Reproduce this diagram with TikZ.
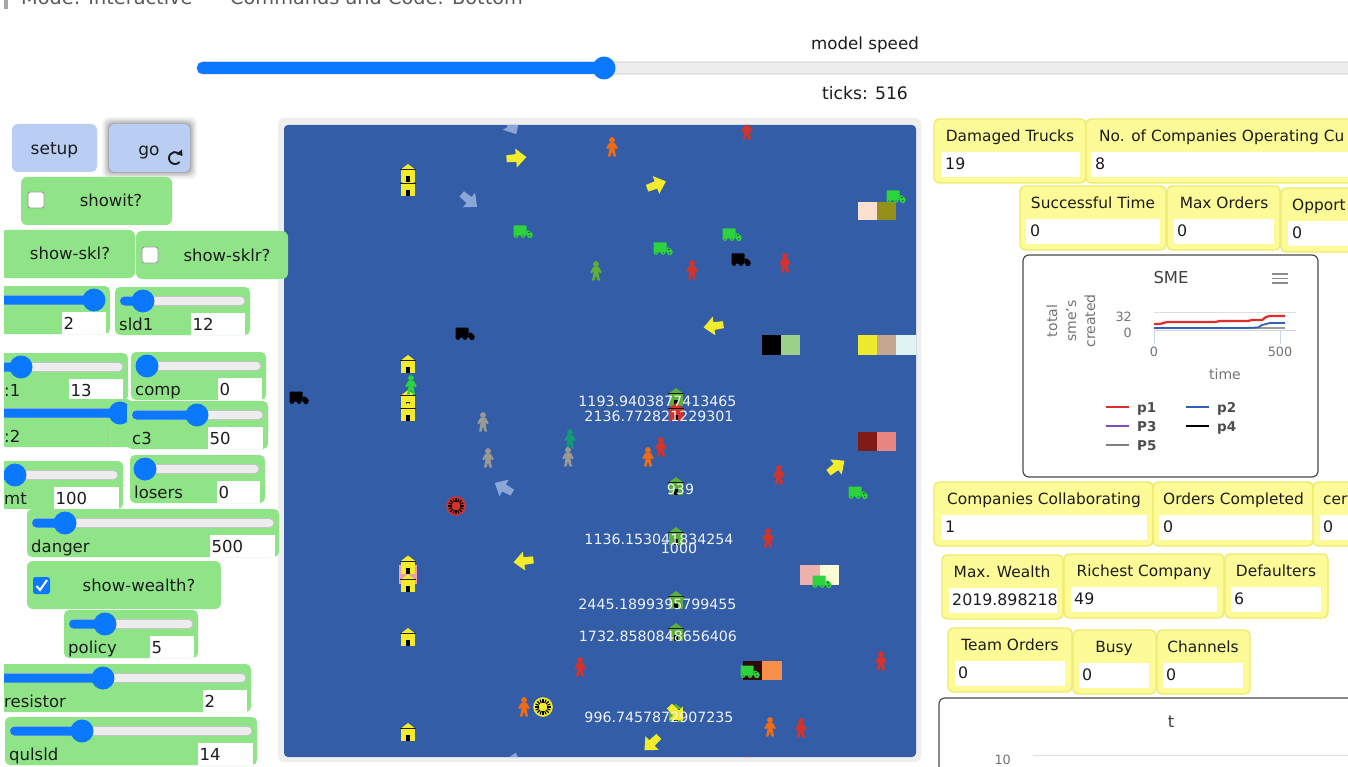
\documentclass[tikz,border=0pt]{standalone}
\usepackage{fontspec}
\setmainfont{DejaVu Sans}
\usetikzlibrary{calc}
\definecolor{wgreen}{HTML}{8FE488}
\definecolor{wblue}{HTML}{B9CEF2}
\definecolor{knob}{HTML}{0A78FF}
\definecolor{trk}{HTML}{EDEDED}
\definecolor{trkb}{HTML}{C4C4C4}
\definecolor{myel}{HTML}{FDFB97}
\definecolor{myelb}{HTML}{EDEB6C}
\definecolor{viewb}{HTML}{335DA7}
\definecolor{frm}{HTML}{EEEEEE}
\definecolor{ink}{HTML}{1C1C1C}
\definecolor{pyel}{HTML}{F2EC2C}
\definecolor{lblue}{HTML}{8CA6D8}
\definecolor{pred}{HTML}{D5322A}
\definecolor{porg}{HTML}{F06C14}
\definecolor{pgry}{HTML}{9A9A92}
\definecolor{pteal}{HTML}{149A78}
\definecolor{pgrn}{HTML}{5CB038}
\definecolor{tgrn}{HTML}{2CD33C}
\definecolor{pa}{HTML}{FCE0CF}
\definecolor{pb}{HTML}{94901A}
\definecolor{pc}{HTML}{9CD18A}
\definecolor{pd}{HTML}{EEEA2E}
\definecolor{pe}{HTML}{C5A68E}
\definecolor{pf}{HTML}{DFF3F2}
\definecolor{pg}{HTML}{801A14}
\definecolor{ph}{HTML}{E88580}
\definecolor{pi}{HTML}{EDB0AB}
\definecolor{pj}{HTML}{FCFBD8}
\definecolor{pk}{HTML}{300808}
\definecolor{pl}{HTML}{F68F4A}
\definecolor{pm}{HTML}{EE9DB0}
\definecolor{frame}{HTML}{4A4A4A}
\definecolor{axisb}{HTML}{CCD6EB}
\definecolor{serg}{HTML}{9A9A9A}
\definecolor{serb}{HTML}{3060B8}
\definecolor{serr}{HTML}{E02C2C}
\definecolor{serp}{HTML}{7C4DB8}
\newcounter{nn}
\newcommand{\tx}[6]{\stepcounter{nn}\node[inner sep=0pt,anchor=#3,text=#5,font=\fontsize{#4}{#4}\selectfont] (n\arabic{nn}) at (#1,#2+3) {#6};}
\newcommand{\rbox}[6]{\fill[#5,rounded corners=#6] (#1,#2) rectangle (#3,#4);}
% x1 x2 ytop trackx1 trackx2 knobx label labelx boxx1 boxx2 value
\newcommand{\slider}[9]{\def\Sa{#1}\def\Sb{#2}\def\Sc{#3}\def\Sd{#4}\def\Se{#5}\def\Sf{#6}\def\Sg{#7}\def\Sh{#8}\def\Si{#9}\sliderb}
\newcommand{\sliderb}[2]{%
 \rbox{\Sa}{\Sc}{\Sb}{\Sc+48}{wgreen}{5pt}
 \fill[white] (\Si,\Sc+26) rectangle (#1,\Sc+48);
 \draw[trkb,fill=trk,line width=.8pt,rounded corners=4.5pt] (\Sd,\Sc+9.5) rectangle (\Se,\Sc+18.5);
 \fill[knob,rounded corners=4.5pt] (\Sd,\Sc+9.5) rectangle (\Sf,\Sc+18.5);
 \fill[knob] (\Sf,\Sc+14) circle (11.5);
 \tx{\Sh}{\Sc+37.5}{mid west}{16.5}{ink}{\Sg}
 \tx{\Si+1.5}{\Sc+37.5}{mid west}{16.5}{ink}{#2}
}
\newcommand{\chk}[2]{\draw[gray!80,fill=white,line width=.9pt,rounded corners=2.5pt] (#1-8,#2-8) rectangle (#1+8,#2+8);}
% x1 ytop x2 fieldx1 fieldx2 value title titlex valx anchor
\newcommand{\mon}[9]{\def\Ma{#1}\def\Mb{#2}\def\Mc{#3}\def\Md{#4}\def\Me{#5}\def\Mf{#6}\def\Mg{#7}\def\Mh{#8}\def\Mi{#9}\monb}
\newcommand{\monb}[1]{%
 \draw[myelb,fill=myel,line width=1.4pt,rounded corners=5pt] (\Ma,\Mb) rectangle (\Mc,\Mb+64);
 \fill[white] (\Md,\Mb+33) rectangle (\Me,\Mb+58);
 \tx{\Mh}{\Mb+16.5}{#1}{15.4}{ink}{\Mg}
 \begin{scope}
 \clip (\Md,\Mb+33) rectangle (\Me,\Mb+58);
 \tx{\Mi}{\Mb+45}{mid west}{15.8}{ink}{\Mf}
 \end{scope}
}
\newcommand{\person}[3]{\begin{scope}[shift={(#1,#2)}]\fill[#3] (0,-7) circle (2.9);
 \fill[#3,rounded corners=.5pt] (-2.6,-4.4) -- (2.6,-4.4) -- (5.8,1.2) -- (4.2,2.4) -- (2.5,.2) -- (2.5,1.5) -- (4,9.6) -- (1.5,9.6) -- (0,4.4) -- (-1.5,9.6) -- (-4,9.6) -- (-2.5,1.5) -- (-2.5,.2) -- (-4.2,2.4) -- (-5.8,1.2) -- cycle;\end{scope}}
\newcommand{\truck}[3]{\begin{scope}[shift={(#1,#2)}]
 \fill[#3,rounded corners=.6pt] (-9.5,-5.5) rectangle (3.5,4.5);
 \fill[#3,rounded corners=.6pt] (3.5,-.5) -- (6,-.5) -- (9.5,2.5) -- (9.5,4.8) -- (3.5,4.8) -- cycle;
 \fill[#3] (-7,4.5) circle (2.4) (0,4.5) circle (2.4) (6.8,4.5) circle (2.7);
 \fill[black,opacity=.7] (-7,5) circle (.6) (0,5) circle (.6) (6.8,4.8) circle (.7) (5,.8) rectangle (6.6,2);
 \end{scope}}
\newcommand{\house}[3]{\begin{scope}[shift={(#1,#2)}]
 \fill[#3] (0,-9) -- (7.8,-3) -- (-7.8,-3) -- cycle;
 \fill[#3] (-7.2,-3) rectangle (7.2,9);
 \fill[black!85!#3] (-8,-3.6) rectangle (8,-2.6);
 \fill[black] (-2,3) rectangle (2,9);
 \end{scope}}
\newcommand{\arw}[4]{\begin{scope}[shift={(#1,#2)},rotate=#3]
 \fill[#4] (10.5,0) -- (0,-9.5) -- (0,-3.9) -- (-9.5,-3.5) -- (-9.5,3.5) -- (0,3.9) -- (0,9.5) -- cycle;\end{scope}}
\newcommand{\whl}[3]{\begin{scope}[shift={(#1,#2)}]
 \fill[#3] (0,0) circle (9.8);
 \foreach \a in {0,22.5,...,337.5}{\draw[black,line width=1.1pt] (\a:4.4) -- (\a:8);}
 \end{scope}}
\newcommand{\lab}[3]{\tx{#1}{#2}{mid}{14.2}{white!92!viewb}{#3}}
\begin{document}
\begin{tikzpicture}[x=1pt,y=-1pt]
\useasboundingbox (0,0) rectangle (1348,767);
\clip (0,0) rectangle (1348,767);
\fill[white] (0,0) rectangle (1348,767);
% top line
\fill[gray!70] (4,0) rectangle (8,9);
\tx{21}{-1}{mid west}{19.3}{gray!70!black}{Mode: Interactive}
\tx{230}{-1}{mid west}{19.3}{gray!70!black}{Commands and Code: Bottom}
% speed slider
\tx{865}{44}{mid}{16.7}{ink}{model speed}
\tx{865}{93.5}{mid}{17.2}{ink}{ticks: 516}
\draw[trkb,fill=trk,line width=.8pt,rounded corners=5.5pt] (197,62) rectangle (1360,74);
\fill[knob,rounded corners=5.5pt] (197,62) rectangle (604,74);
\fill[knob] (604,68) circle (11.5);
% view
\fill[frm,rounded corners=6pt] (278,118) rectangle (921,762);
\fill[viewb,rounded corners=4pt] (284,125) rectangle (916,757);
\begin{scope}
\clip[rounded corners=4pt] (284,125) rectangle (916,757);
% patches
\fill[pa] (858,202) rectangle (877,220);
\fill[pb] (877,202) rectangle (896,220);
\fill[black] (762,335) rectangle (781,355);
\fill[pc] (781,335) rectangle (800,355);
\fill[pd] (858,335) rectangle (877,355);
\fill[pe] (877,335) rectangle (896,355);
\fill[pf] (896,335) rectangle (916,355);
\fill[pg] (858,432) rectangle (877,451);
\fill[ph] (877,432) rectangle (896,451);
\fill[pi] (800,565) rectangle (820,585);
\fill[pj] (820,565) rectangle (839,585);
\fill[pk] (743,661) rectangle (762,680);
\fill[pl] (762,661) rectangle (782,680);
\fill[pm] (399,565) rectangle (417,584);
% houses
\house{408}{187}{pyel}\house{408}{173}{pyel}
\house{408}{364}{pyel}
\house{408}{399}{pyel}\house{408}{411.5}{pyel}
\house{408}{564.5}{pyel}\house{408}{583}{pyel}
\house{408}{637}{pyel}\house{408}{732}{pyel}
\house{676}{397}{pgrn}\house{676}{412}{pred}
\house{676}{486}{pgrn}\house{676}{536}{pgrn}\house{676}{600}{pgrn}\house{676}{632}{pgrn}\house{676}{713}{pgrn}
% people
\person{612}{147}{porg}\person{747}{130}{pred}
\person{596}{271}{pgrn}\person{692}{270}{pred}\person{785}{263}{pred}
\person{411}{385}{tgrn}\person{483}{422}{pgry}\person{570}{439}{pteal}
\person{488}{458}{pgry}\person{568}{457}{pgry}
\person{661}{447}{pred}\person{648}{457}{porg}
\person{779}{475}{pred}\person{768}{538}{pred}\person{580}{667}{pred}\person{881}{661}{pred}
\person{524}{707}{porg}\person{770}{727}{porg}\person{801}{728}{pred}\person{747}{766}{pred}
% trucks
\truck{523}{231}{tgrn}\truck{663}{248}{tgrn}\truck{732}{234}{tgrn}\truck{896}{196}{tgrn}
\truck{858}{492}{tgrn}\truck{822}{581}{tgrn}\truck{750}{671}{tgrn}
\truck{465}{333}{black}\truck{299}{397}{black}\truck{741}{259}{black}
% arrows
\arw{516}{158}{5}{pyel}\arw{511}{125}{-60}{lblue}\arw{469}{200}{-40}{lblue}
\arw{656}{185}{20}{pyel}\arw{714}{326}{188}{pyel}\arw{836}{467}{37}{pyel}
\arw{504}{488}{151}{lblue}\arw{524}{561}{187}{pyel}\arw{676}{713}{-47}{pyel}
\arw{652}{743}{224}{pyel}\arw{513}{763}{75}{lblue}
% wheels
\whl{456}{506}{pred}\whl{543}{707}{pyel}
% labels
\lab{657.5}{401}{1193.9403877413465}
\lab{659}{416}{2136.772821229301}
\lab{680.5}{489}{939}
\lab{659}{539}{1136.153041834254}
\lab{679}{547.5}{1000}
\lab{657.5}{604}{2445.1899395799455}
\lab{658}{636}{1732.8580848656406}
\lab{659}{717}{996.7457872907235}
\end{scope}
% buttons
\foreach \s/\o in {7/.04,5.5/.05,4/.07,2.5/.09,1/.12}{\fill[black,opacity=\o,rounded corners=6pt] (109-\s,124-\s) rectangle (190+\s,172+\s);}
\rbox{12}{124}{97}{172}{wblue}{6pt}
\rbox{109}{124}{190}{172}{wblue}{6pt}
\tx{54.5}{148.5}{mid}{17}{ink}{setup}
\tx{149}{149.5}{mid}{17}{ink}{go}
\draw[ink,line width=1.9pt] (179.6,161.9) arc (40:300:6);
\fill[ink] (182,149.5) -- (182.5,156) -- (176,154) -- cycle;
% switches
\rbox{21}{177}{172}{225}{wgreen}{6pt}\chk{36}{200}
\tx{111}{201}{mid}{16.5}{ink}{showit?}
\rbox{0}{230}{135}{278}{wgreen}{6pt}
\tx{70}{254}{mid}{16.5}{ink}{show-skl?}
\rbox{136}{231}{288}{279}{wgreen}{6pt}\chk{150}{255}
\tx{227}{256}{mid}{16.5}{ink}{show-sklr?}
% sliders
\slider{0}{110}{286}{-5}{105}{94}{}{4}{62}{106}{2}
\slider{115}{250}{287}{120}{245}{143}{sld1}{119}{191}{245}{12}
\slider{0}{128}{353}{-5}{123}{21}{:1}{4}{69}{123}{13}
\slider{131}{266}{352}{136}{261}{147}{comp}{135}{218}{262}{0}
\slider{0}{132}{399}{-5}{127}{120}{:2}{4}{110}{110}{}
\slider{127}{268}{401}{132}{263}{197}{c3}{132}{208}{263}{50}
\slider{0}{123}{461}{-5}{118}{15}{mt}{4}{54}{119}{100}
\slider{130}{265}{455}{135}{259}{145}{losers}{134}{217}{260}{0}
\slider{27}{279}{509}{32}{274}{65}{danger}{31}{210}{275}{500}
\rbox{27}{561}{221}{609}{wgreen}{6pt}
\fill[knob,rounded corners=2.5pt] (33,577) rectangle (50,594);
\draw[white,line width=2pt] (36.5,586) -- (40,590) -- (47,580);
\tx{139}{586}{mid}{16.5}{ink}{show-wealth?}
\slider{64}{198}{610}{69}{193}{105}{policy}{68}{150}{194}{5}
\slider{0}{251}{664}{-5}{246}{103}{resistor}{4}{203}{247}{2}
\slider{5}{257}{717}{10}{252}{82}{qulsld}{9}{198}{253}{14}
% left margin mask
\fill[white] (0,225) rectangle (4,767);
% monitors
\mon{934}{119}{1086}{941}{1080}{19}{Damaged Trucks}{1010}{945}{mid}
\mon{1086}{119}{1380}{1091}{1380}{8}{No. of Companies Operating Cu}{1099}{1095}{mid west}
\mon{1020}{186}{1166}{1026}{1160}{0}{Successful Time}{1093}{1030}{mid}
\mon{1167}{186}{1280}{1174}{1274}{0}{Max Orders}{1224}{1177}{mid}
\mon{1281}{188}{1380}{1288}{1380}{0}{Opport}{1292}{1292}{mid west}
\mon{934}{482}{1153}{941}{1147}{1}{Companies Collaborating}{1044}{945}{mid}
\mon{1153}{482}{1313}{1159}{1313}{0}{Orders Completed}{1163}{1163}{mid west}
\mon{1313}{482}{1380}{1320}{1380}{0}{cer}{1323}{1323}{mid west}
\mon{942}{555}{1063}{949}{1057}{2019.898218}{Max. Wealth}{1002}{952}{mid}
\mon{1064}{554}{1224}{1071}{1217}{49}{Richest Company}{1144}{1074}{mid}
\mon{1225}{554}{1328}{1231}{1321}{6}{Defaulters}{1276}{1234}{mid}
\mon{948}{628}{1072}{955}{1065}{0}{Team Orders}{1010}{958}{mid}
\mon{1073}{630}{1156}{1079}{1149}{0}{Busy}{1114}{1082}{mid}
\mon{1157}{630}{1250}{1163}{1243}{0}{Channels}{1203}{1166}{mid}
% SME plot
\draw[frame,fill=white,line width=1.2pt,rounded corners=6pt] (1023,255) rectangle (1318,477);
\tx{1171}{278}{mid}{16.4}{black!75}{SME}
\draw[gray!90,line width=1.1pt] (1272,274) -- (1288,274) (1272,278.5) -- (1288,278.5) (1272,283) -- (1288,283);
\foreach \xx/\lb in {1052/total,1071/sme's,1090/created}{\stepcounter{nn}\node[inner sep=0pt,rotate=90,text=gray!90!black,font=\fontsize{14}{14}\selectfont] (n\arabic{nn}) at (\xx,321) {\lb};}
\draw[gray!25,line width=.8pt] (1154,312) -- (1296,312);
\draw[axisb,line width=.8pt] (1154,330) -- (1296,330) (1154,330) -- (1154,344) (1280,330) -- (1280,344);
\tx{1132}{316}{mid east}{12.8}{gray!90!black}{32}
\tx{1132}{332}{mid east}{12.8}{gray!90!black}{0}
\tx{1154}{351}{mid}{12.8}{gray!90!black}{0}
\tx{1280}{351}{mid}{12.8}{gray!90!black}{500}
\tx{1225}{374}{mid}{14}{gray!90!black}{time}
\draw[serg,line width=1.3pt] (1154,328) -- (1285,328);
\draw[serb,line width=1.8pt] (1154,328) -- (1245,328) -- (1258,327.5) -- (1262,325) -- (1270,323) -- (1285,323);
\draw[serr,line width=2.2pt] (1154,324) -- (1160,324) -- (1167,322) -- (1215,322) -- (1220,321) -- (1248,321) -- (1252,320) -- (1262,320) -- (1266,317) -- (1270,316) -- (1285,316);
\draw[serr,line width=1.6pt] (1106,407) -- (1129,407);
\draw[serb,line width=1.6pt] (1186,407) -- (1209,407);
\draw[serp,line width=1.6pt] (1106,426) -- (1129,426);
\draw[black,line width=1.6pt] (1186,426) -- (1209,426);
\draw[gray,line width=1.6pt] (1106,445) -- (1129,445);
\foreach \xx/\yy/\lb in {1137/407/p1,1217/407/p2,1137/426/P3,1217/426/p4,1137/445/P5}{\tx{\xx}{\yy}{mid west}{13.5}{black!70}{\bfseries\lb}}
% t plot
\draw[frame,fill=white,line width=1.2pt,rounded corners=6pt] (939,698) rectangle (1380,800);
\tx{1171}{722}{mid}{16.4}{black!75}{t}
\tx{1011}{759}{mid east}{12.8}{gray!90!black}{10}
\draw[gray!25,line width=.8pt] (1033,755) -- (1348,755);
\end{tikzpicture}
\end{document}
